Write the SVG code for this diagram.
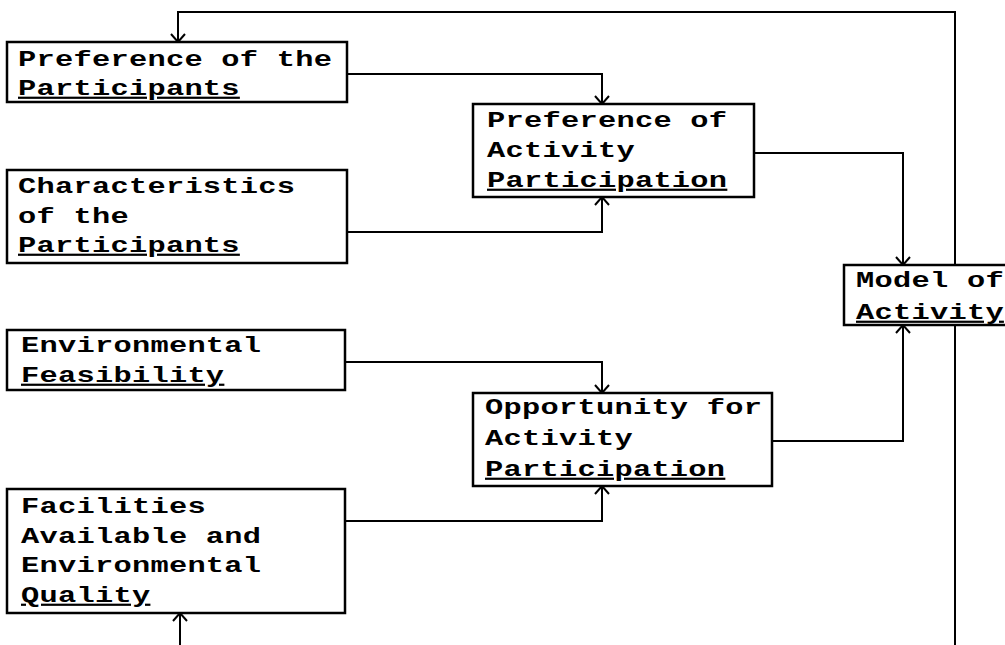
<svg xmlns="http://www.w3.org/2000/svg" width="1005" height="645" viewBox="0 0 1005 645">
<defs>
<style>
.box{fill:#fff;stroke:#000;stroke-width:2.5}
.t{font-family:"Liberation Mono","Courier New",monospace;font-size:22px;font-weight:bold;letter-spacing:0.2px;fill:#000}
.u{text-decoration:underline}
.c{fill:none;stroke:#000;stroke-width:2}
</style>
<marker id="ah" markerUnits="userSpaceOnUse" markerWidth="20" markerHeight="20" viewBox="-10 -10 20 20" refX="0" refY="0" orient="auto">
<path d="M-8,-7 L0,0 L-8,7" fill="none" stroke="#000" stroke-width="2"/>
</marker>
</defs>
<rect width="1005" height="645" fill="#fff"/>
<g id="connectors">
<path class="c" d="M955,265 V12 H178 V42" marker-end="url(#ah)"/>
<path class="c" d="M347,74 H602 V104" marker-end="url(#ah)"/>
<path class="c" d="M347,232 H602 V197" marker-end="url(#ah)"/>
<path class="c" d="M754,153 H903 V265" marker-end="url(#ah)"/>
<path class="c" d="M345,362 H602 V393" marker-end="url(#ah)"/>
<path class="c" d="M345,521 H602 V486" marker-end="url(#ah)"/>
<path class="c" d="M772,441 H903 V325" marker-end="url(#ah)"/>
<path class="c" d="M955,325 V645"/>
<path class="c" d="M180,645 V613" marker-end="url(#ah)"/>
</g>
<g id="pref-participants">
<rect class="box" x="7" y="42" width="340" height="60"/>
<text class="t" transform="translate(18,66) scale(1.38,1)">Preference of the</text>
<text class="t u" transform="translate(18,95) scale(1.38,1)">Participants</text>
</g>
<g id="char-participants">
<rect class="box" x="7" y="170" width="340" height="93"/>
<text class="t" transform="translate(18,193) scale(1.38,1)">Characteristics</text>
<text class="t" transform="translate(18,223) scale(1.38,1)">of the</text>
<text class="t u" transform="translate(18,252) scale(1.38,1)">Participants</text>
</g>
<g id="pref-activity">
<rect class="box" x="473" y="104" width="281" height="93"/>
<text class="t" transform="translate(487,127) scale(1.38,1)">Preference of</text>
<text class="t" transform="translate(487,157) scale(1.38,1)">Activity</text>
<text class="t u" transform="translate(487,187) scale(1.38,1)">Participation</text>
</g>
<g id="model">
<rect class="box" x="844" y="265" width="170" height="60"/>
<text class="t" transform="translate(856,287) scale(1.38,1)">Model of</text>
<text class="t u" transform="translate(856,319) scale(1.38,1)">Activity</text>
</g>
<g id="env-feasibility">
<rect class="box" x="7" y="330" width="338" height="60"/>
<text class="t" transform="translate(21,352) scale(1.38,1)">Environmental</text>
<text class="t u" transform="translate(21,382) scale(1.38,1)">Feasibility</text>
</g>
<g id="opportunity">
<rect class="box" x="473" y="393" width="299" height="93"/>
<text class="t" transform="translate(485,414) scale(1.38,1)">Opportunity for</text>
<text class="t" transform="translate(485,445) scale(1.38,1)">Activity</text>
<text class="t u" transform="translate(485,476) scale(1.38,1)">Participation</text>
</g>
<g id="facilities">
<rect class="box" x="7" y="489" width="338" height="124"/>
<text class="t" transform="translate(21,513) scale(1.38,1)">Facilities</text>
<text class="t" transform="translate(21,543) scale(1.38,1)">Available and</text>
<text class="t" transform="translate(21,572) scale(1.38,1)">Environmental</text>
<text class="t u" transform="translate(21,602) scale(1.38,1)">Quality</text>
</g>
</svg>
